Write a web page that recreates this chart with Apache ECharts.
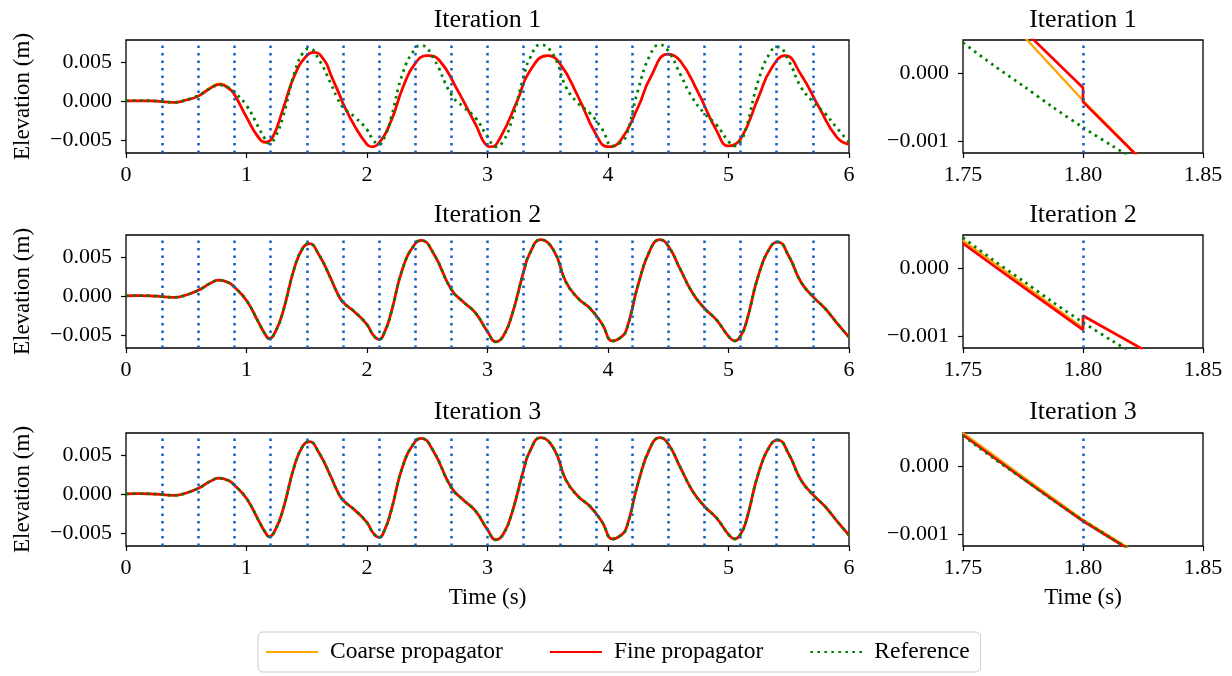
<!DOCTYPE html>
<html>
<head>
<meta charset="utf-8">
<script src="https://cdn.jsdelivr.net/npm/echarts@6/dist/echarts.min.js"></script>
<style>
html, body { margin: 0; padding: 0; background: #fff; }
#main { width: 1232px; height: 676px; }
</style>
</head>
<body>
<div id="main"></div>
<script>
// time slice boundaries (s)
var boundaries = [0.3, 0.6, 0.9, 1.2, 1.5, 1.8, 2.1, 2.4, 2.7, 3.0, 3.3, 3.6, 3.9, 4.2, 4.5, 4.8, 5.1, 5.4, 5.7];

// reference solution, [t, elevation]
var reference = [
  [0, 0], [0.1, 0.00002], [0.2, 0], [0.3, -0.0001], [0.4, -0.0002], [0.5, 0.0001],
  [0.6, 0.0007], [0.7, 0.0016], [0.77, 0.002], [0.85, 0.0017], [0.9, 0.0011],
  [1.0, -0.0006], [1.1, -0.0034], [1.15, -0.0048], [1.19, -0.0055], [1.24, -0.0046],
  [1.3, -0.0022], [1.4, 0.0037], [1.47, 0.0062], [1.52, 0.0067], [1.6, 0.0053],
  [1.7, 0.0022], [1.75, 0.00046], [1.8, -0.0008], [1.9, -0.0021], [2.0, -0.0037],
  [2.05, -0.005], [2.1, -0.0056], [2.15, -0.0045], [2.2, -0.0022], [2.3, 0.0037],
  [2.4, 0.0067], [2.45, 0.0071], [2.55, 0.0055], [2.7, 0.0008], [2.8, -0.0008],
  [2.9, -0.0022], [3.0, -0.0046], [3.07, -0.0059], [3.13, -0.0052], [3.2, -0.0026],
  [3.3, 0.0031], [3.35, 0.0054], [3.44, 0.0072], [3.55, 0.0058], [3.65, 0.0018],
  [3.75, -0.0003], [3.85, -0.0016], [3.95, -0.0036], [4.04, -0.0058], [4.1, -0.0054],
  [4.15, -0.0045], [4.25, 0.0014], [4.35, 0.0059], [4.43, 0.0072], [4.5, 0.0064],
  [4.6, 0.0034], [4.7, 0.0004], [4.8, -0.0016], [4.9, -0.0031], [5.0, -0.0052],
  [5.05, -0.0058], [5.1, -0.0052], [5.15, -0.0033], [5.25, 0.0027], [5.35, 0.0063],
  [5.41, 0.0069], [5.5, 0.0051], [5.6, 0.0018], [5.7, -0.0001], [5.8, -0.0016],
  [5.9, -0.0035], [6.0, -0.0053]
];

// iteration 1
var coarseIt1 = [
  [0, 0], [0.2, 0], [0.3, -0.0001], [0.4, -0.0002], [0.5, 0.0001], [0.6, 0.0006],
  [0.7, 0.0017], [0.78, 0.0022], [0.86, 0.0016], [0.9, 0.0008], [1.0, -0.0021],
  [1.1, -0.0048], [1.16, -0.0054], [1.22, -0.0046], [1.3, -0.0012], [1.4, 0.0033],
  [1.5, 0.0058], [1.56, 0.0062], [1.65, 0.0051], [1.7, 0.0034], [1.78, 0.0004],
  [1.8, -0.0004], [1.9, -0.0033], [2.0, -0.0056], [2.04, -0.0059], [2.1, -0.0054],
  [2.2, -0.0026], [2.3, 0.0018], [2.4, 0.0048], [2.5, 0.0058], [2.6, 0.0052],
  [2.75, 0.0014], [2.9, -0.003], [3.0, -0.0058], [3.03, -0.0059], [3.1, -0.0049],
  [3.25, 0.0001], [3.35, 0.0038], [3.5, 0.0058], [3.6, 0.0048], [3.75, 0.0006],
  [3.9, -0.0043], [4.0, -0.0059], [4.1, -0.0052], [4.25, -0.0008], [4.35, 0.0029],
  [4.5, 0.006], [4.6, 0.0051], [4.75, 0.001], [4.9, -0.0038], [5.0, -0.0058],
  [5.1, -0.0049], [5.25, 0.0005], [5.35, 0.004], [5.47, 0.0058], [5.6, 0.0034],
  [5.75, -0.0008], [5.9, -0.0047], [6.0, -0.0056]
];
var fineIt1 = [
  [0, 0], [0.2, 0], [0.3, -0.0001], [0.4, -0.0002], [0.5, 0.0001], [0.6, 0.0006],
  [0.7, 0.0016], [0.78, 0.0021], [0.86, 0.0015], [0.9, 0.0008], [1.0, -0.0021],
  [1.1, -0.0047], [1.16, -0.0053], [1.22, -0.0046], [1.3, -0.0012], [1.4, 0.0033],
  [1.5, 0.0058], [1.56, 0.0062], [1.65, 0.0051], [1.7, 0.0033], [1.78, 0.0005],
  [1.8, -0.0003], [1.9, -0.0033], [2.0, -0.0056], [2.04, -0.0059], [2.1, -0.0054],
  [2.2, -0.0026], [2.3, 0.0018], [2.4, 0.0048], [2.5, 0.0058], [2.6, 0.0052],
  [2.75, 0.0014], [2.9, -0.003], [3.0, -0.0058], [3.03, -0.0059], [3.1, -0.0049],
  [3.25, 0.0001], [3.35, 0.0038], [3.5, 0.0058], [3.6, 0.0048], [3.75, 0.0006],
  [3.9, -0.0043], [4.0, -0.0059], [4.1, -0.0052], [4.25, -0.0008], [4.35, 0.0029],
  [4.5, 0.006], [4.6, 0.0051], [4.75, 0.001], [4.9, -0.0038], [5.0, -0.0058],
  [5.1, -0.0049], [5.25, 0.0005], [5.35, 0.004], [5.47, 0.0058], [5.6, 0.0034],
  [5.75, -0.0008], [5.9, -0.0047], [6.0, -0.0056]
];
// iterations 2 and 3 sit on the reference at full scale
var coarseIt2 = reference, fineIt2 = reference;
var coarseIt3 = reference, fineIt3 = reference;

// zoom around t = 1.80 s
var zoomReference = [[1.75, 0.00046], [1.7625, 0.00013], [1.775, -0.00018], [1.7875, -0.0005], [1.8, -0.0008], [1.8125, -0.00108], [1.825, -0.00135]];
var zoomCoarse1 = [[1.77, 0.00076], [1.8, -0.0004], [1.825, -0.0013]];
var zoomFine1 = [[1.77, 0.00083], [1.8, -0.00021], [1.8, -0.00042], [1.825, -0.00131]];
var zoomCoarse2 = [[1.75, 0.00042], [1.775, -0.00023], [1.8, -0.00088], [1.8, -0.0007], [1.825, -0.0012]];
var zoomFine2 = [[1.75, 0.000375], [1.7625, 0.00005], [1.775, -0.00027], [1.7875, -0.00059], [1.8, -0.00091], [1.8, -0.0007], [1.825, -0.0012]];
var zoomCoarse3 = [[1.75, 0.0005], [1.775, -0.00015], [1.8, -0.00079], [1.825, -0.00134]];
var zoomFine3 = [[1.75, 0.00047], [1.775, -0.00018], [1.8, -0.00081], [1.825, -0.00136]];

var fullTicks = [-0.005, 0, 0.005];
var zoomTicks = [-0.001, 0];
var zoomTimeTicks = [1.75, 1.8, 1.85];

var FONT = '"Liberation Serif", "DejaVu Serif", serif';
var chart = echarts.init(document.getElementById('main'));

var panels = [
  { coarse: coarseIt1, fine: fineIt1, ref: reference, zoom: false },
  { coarse: zoomCoarse1, fine: zoomFine1, ref: zoomReference, zoom: true },
  { coarse: coarseIt2, fine: fineIt2, ref: reference, zoom: false },
  { coarse: zoomCoarse2, fine: zoomFine2, ref: zoomReference, zoom: true },
  { coarse: coarseIt3, fine: fineIt3, ref: reference, zoom: false },
  { coarse: zoomCoarse3, fine: zoomFine3, ref: zoomReference, zoom: true }
];
var rowTop = [40, 235, 433];
var titleTop = [7, 202, 399];

function fmt(v, d) {
  var s = Math.abs(v).toFixed(d);
  return v < -1e-12 ? '\u2212' + s : s;
}

var grids = [], xAxes = [], yAxes = [], series = [], titles = [];
panels.forEach(function (p, i) {
  var row = Math.floor(i / 2);
  var left = p.zoom ? 963 : 126;
  var width = p.zoom ? 240 : 723;
  grids.push({ left: left, top: rowTop[row], width: width, height: 113, show: true,
    borderColor: '#000', borderWidth: 1.3, backgroundColor: 'transparent' });
  titles.push({ text: 'Iteration ' + (row + 1), left: left + width / 2, top: titleTop[row],
    textAlign: 'center', padding: 0,
    textStyle: { fontFamily: FONT, fontSize: 26, fontWeight: 'normal', color: '#000' } });

  var xMin = p.zoom ? 1.75 : 0, xMax = p.zoom ? 1.85 : 6;
  var xa = {
    type: 'value', gridIndex: i, min: xMin, max: xMax,
    axisLine: { show: false, onZero: false }, splitLine: { show: false },
    axisTick: { show: true, length: 5, lineStyle: { color: '#000', width: 1.2 } },
    axisLabel: { fontFamily: FONT, fontSize: 22, color: '#000', margin: 11 }
  };
  if (p.zoom) {
    xa.axisTick.customValues = zoomTimeTicks;
    xa.axisLabel.customValues = zoomTimeTicks;
    xa.axisLabel.formatter = function (v) { return v.toFixed(2); };
  } else {
    xa.interval = 1;
  }
  if (row === 2) {
    xa.name = 'Time (s)';
    xa.nameLocation = 'middle';
    xa.nameGap = 40;
    xa.nameTextStyle = { fontFamily: FONT, fontSize: 23, color: '#000' };
  }
  xAxes.push(xa);

  var ticks = p.zoom ? zoomTicks : fullTicks;
  var ya = {
    type: 'value', gridIndex: i,
    min: p.zoom ? -0.00118 : -0.0067, max: p.zoom ? 0.0005 : 0.0078,
    axisLine: { show: false, onZero: false }, splitLine: { show: false },
    axisTick: { show: true, length: 5, customValues: ticks, lineStyle: { color: '#000', width: 1.2 } },
    axisLabel: { fontFamily: FONT, fontSize: 22, color: '#000', margin: 14, customValues: ticks,
      formatter: function (v) { return fmt(v, 3); } }
  };
  if (!p.zoom) {
    ya.name = 'Elevation (m)';
    ya.nameLocation = 'middle';
    ya.nameRotate = 90;
    ya.nameGap = 92;
    ya.nameTextStyle = { fontFamily: FONT, fontSize: 23, color: '#000' };
  }
  yAxes.push(ya);

  var smooth = p.zoom ? false : 0.5;
  series.push({ name: 'Coarse propagator', type: 'line', xAxisIndex: i, yAxisIndex: i,
    data: p.coarse, showSymbol: false, symbol: 'none', smooth: smooth,
    lineStyle: { color: '#ffa500', width: 2.3 }, itemStyle: { color: '#ffa500' } });
  series.push({ name: 'Fine propagator', type: 'line', xAxisIndex: i, yAxisIndex: i,
    data: p.fine, showSymbol: false, symbol: 'none', smooth: smooth,
    lineStyle: { color: '#ff0000', width: 2.7 }, itemStyle: { color: '#ff0000' } });
  series.push({ name: 'Reference', type: 'line', xAxisIndex: i, yAxisIndex: i,
    data: p.ref, showSymbol: false, symbol: 'none', smooth: p.zoom ? 0.3 : smooth,
    lineStyle: { color: '#008000', width: 2.8, type: [2.6, 4.4] }, itemStyle: { color: '#008000' },
    markLine: {
      silent: true, symbol: ['none', 'none'], label: { show: false },
      lineStyle: { color: '#0f5fc6', width: 2.5, type: [2.5, 5] },
      data: boundaries.filter(function (t) { return t >= xMin && t <= xMax; })
        .map(function (t) { return { xAxis: t }; })
    } });
});

chart.setOption({
  animation: false,
  backgroundColor: '#fff',
  title: titles,
  grid: grids,
  xAxis: xAxes,
  yAxis: yAxes,
  legend: {
    data: ['Coarse propagator', 'Fine propagator', 'Reference'],
    left: 258, top: 632,
    padding: [8, 11, 8, 7],
    itemWidth: 52, itemHeight: 14, itemGap: 46,
    itemStyle: { opacity: 0 },
    borderColor: '#ccc', borderWidth: 1, borderRadius: 5,
    textStyle: { fontFamily: FONT, fontSize: 23.5, color: '#000', padding: [0, 0, 0, 7] }
  },
  series: series
});
</script>
</body>
</html>
